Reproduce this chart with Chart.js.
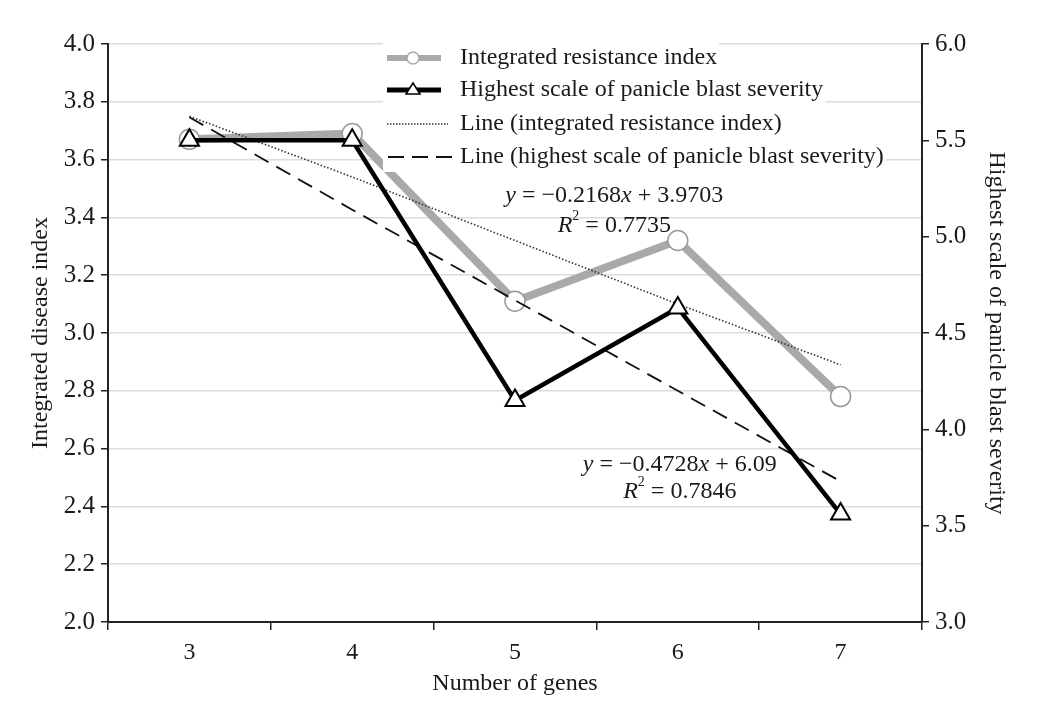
<!DOCTYPE html>
<html>
<head>
<meta charset="utf-8">
<script src="https://cdn.jsdelivr.net/npm/chart.js@4/dist/chart.umd.min.js"></script>
<style>
  html, body { margin: 0; padding: 0; background: #fff; }
  #wrap { width: 1047px; height: 702px; }
</style>
</head>
<body>
<div id="wrap"><canvas id="chart"></canvas></div>
<script>
const genes = ['3', '4', '5', '6', '7'];
const resistanceIndex = [3.67, 3.69, 3.11, 3.32, 2.78];
const panicleScale = [5.5, 5.5, 4.15, 4.63, 3.56];
// trend lines as printed (values at each category)
const resistanceTrend = [3.75, 3.54, 3.32, 3.10, 2.89];
const panicleTrend = [5.62, 5.14, 4.67, 4.20, 3.73];
const legendLabels = [
  'Integrated resistance index',
  'Highest scale of panicle blast severity',
  'Line (integrated resistance index)',
  'Line (highest scale of panicle blast severity)',
];
const eqResistance = ['y', ' = \u22120.2168', 'x', ' + 3.9703'];
const eqPanicle = ['y', ' = \u22120.4728', 'x', ' + 6.09'];
const r2Resistance = '0.7735';
const r2Panicle = '0.7846';

const FONT = '"Liberation Serif", "Times New Roman", serif';
const GRAY = '#a9a9a9';
const INK = '#1a1a1a';
const FS = 24;

// draws a string where every other piece is italic
const drawMixed = (ctx, parts, cx, y) => {
  let total = 0;
  const widths = parts.map((p, i) => {
    ctx.font = (i % 2 === 0 ? 'italic ' : '') + FS + 'px ' + FONT;
    const w = ctx.measureText(p).width;
    total += w;
    return w;
  });
  let x = cx - total / 2;
  parts.forEach((p, i) => {
    ctx.font = (i % 2 === 0 ? 'italic ' : '') + FS + 'px ' + FONT;
    ctx.fillText(p, x, y);
    x += widths[i];
  });
};

const drawR2 = (ctx, value, cx, y) => {
  ctx.font = 'italic ' + FS + 'px ' + FONT;
  const wR = ctx.measureText('R').width;
  ctx.font = '14px ' + FONT;
  const w2 = ctx.measureText('2').width;
  ctx.font = FS + 'px ' + FONT;
  const rest = ' = ' + value;
  const wRest = ctx.measureText(rest).width;
  let x = cx - (wR + w2 + wRest) / 2;
  ctx.font = 'italic ' + FS + 'px ' + FONT;
  ctx.fillText('R', x, y);
  x += wR;
  ctx.font = '14px ' + FONT;
  ctx.fillText('2', x, y - 10);
  x += w2;
  ctx.font = FS + 'px ' + FONT;
  ctx.fillText(rest, x, y);
};

const extras = {
  id: 'extras',
  afterDraw(chart) {
    const { ctx } = chart;
    const xs = chart.scales.x;
    const yl = chart.scales.y;
    const yr = chart.scales.y1;
    ctx.save();
    ctx.textBaseline = 'middle';
    ctx.fillStyle = INK;

    // equations
    const x1 = xs.getPixelForValue(2) * 0.39 + xs.getPixelForValue(3) * 0.61;
    drawMixed(ctx, eqResistance, x1, yl.getPixelForValue(3.474));
    drawR2(ctx, r2Resistance, x1, yl.getPixelForValue(3.37));
    const x2 = xs.getPixelForValue(3) + 2;
    drawMixed(ctx, eqPanicle, x2, yr.getPixelForValue(3.815));
    drawR2(ctx, r2Panicle, x2, yr.getPixelForValue(3.675));

    // legend
    const lx = 387;
    const rows = [58, 90, 124, 157];
    ctx.font = FS + 'px ' + FONT;
    rows.forEach((ry, i) => {
      const tw = ctx.measureText(legendLabels[i]).width;
      ctx.fillStyle = '#fff';
      ctx.fillRect(lx - 4, ry - 15, 460 - lx + tw + 6, 30);
    });
    rows.forEach((ry, i) => {
      ctx.save();
      if (i === 0) {
        ctx.strokeStyle = GRAY; ctx.lineWidth = 6;
        ctx.beginPath(); ctx.moveTo(lx, ry); ctx.lineTo(lx + 54, ry); ctx.stroke();
        ctx.fillStyle = '#fff'; ctx.lineWidth = 1.5;
        ctx.beginPath(); ctx.arc(lx + 26, ry, 6, 0, Math.PI * 2); ctx.fill(); ctx.stroke();
      } else if (i === 1) {
        ctx.strokeStyle = '#000'; ctx.lineWidth = 5;
        ctx.beginPath(); ctx.moveTo(lx, ry); ctx.lineTo(lx + 54, ry); ctx.stroke();
        ctx.fillStyle = '#fff'; ctx.lineWidth = 1.5;
        ctx.beginPath();
        ctx.moveTo(lx + 26, ry - 7); ctx.lineTo(lx + 33, ry + 4); ctx.lineTo(lx + 19, ry + 4);
        ctx.closePath(); ctx.fill(); ctx.stroke();
      } else if (i === 2) {
        ctx.strokeStyle = '#333'; ctx.lineWidth = 1.5; ctx.setLineDash([1.5, 1.5]);
        ctx.beginPath(); ctx.moveTo(lx, ry); ctx.lineTo(lx + 61, ry); ctx.stroke();
      } else {
        ctx.strokeStyle = '#111'; ctx.lineWidth = 2; ctx.setLineDash([16, 8]);
        ctx.beginPath(); ctx.moveTo(lx + 1, ry); ctx.lineTo(lx + 66, ry); ctx.stroke();
      }
      ctx.restore();
      ctx.fillStyle = INK;
      ctx.font = FS + 'px ' + FONT;
      ctx.textAlign = 'left';
      ctx.fillText(legendLabels[i], 460, ry);
    });
    ctx.restore();
  },
};

new Chart(document.querySelector('#chart'), {
  type: 'line',
  data: {
    labels: genes,
    datasets: [
      {
        label: legendLabels[2],
        data: resistanceTrend,
        yAxisID: 'y',
        borderColor: '#333',
        borderWidth: 1.6,
        borderDash: [1.5, 2],
        pointRadius: 0,
        order: 1,
      },
      {
        label: legendLabels[3],
        data: panicleTrend,
        yAxisID: 'y1',
        borderColor: '#111',
        borderWidth: 1.8,
        borderDash: [16, 9],
        pointRadius: 0,
        order: 2,
      },
      {
        label: legendLabels[1],
        data: panicleScale,
        yAxisID: 'y1',
        borderColor: '#000',
        borderWidth: 4.5,
        pointStyle: 'triangle',
        pointRadius: 11,
        pointBorderWidth: 2,
        pointBorderColor: '#000',
        pointBackgroundColor: '#fff',
        order: 0,
      },
      {
        label: legendLabels[0],
        data: resistanceIndex,
        yAxisID: 'y',
        borderColor: GRAY,
        borderWidth: 8,
        pointStyle: 'circle',
        pointRadius: 10,
        pointBorderWidth: 1.5,
        pointBorderColor: '#999',
        pointBackgroundColor: '#fff',
        order: 3,
      },
    ],
  },
  options: {
    responsive: true,
    maintainAspectRatio: false,
    animation: false,
    layout: { padding: { top: 44, left: 0, right: 0, bottom: 0 } },
    plugins: {
      legend: { display: false },
      tooltip: { enabled: false },
    },
    scales: {
      x: {
        offset: true,
        afterFit: (s) => { s.height = 80; },
        grid: {
          offset: true,
          drawOnChartArea: false,
          tickLength: 8,
          color: '#222',
          lineWidth: 1.5,
        },
        border: { color: '#222', width: 2 },
        ticks: { color: INK, font: { family: FONT, size: 24 }, padding: 8 },
        title: {
          display: true,
          text: 'Number of genes',
          color: INK,
          font: { family: FONT, size: 24 },
          padding: { top: 0 },
        },
      },
      y: {
        position: 'left',
        min: 2.0,
        max: 4.0,
        afterFit: (s) => { s.width = 108; },
        ticks: {
          stepSize: 0.2,
          color: INK,
          font: { family: FONT, size: 25 },
          padding: 6,
          callback: (v) => Number(v).toFixed(1),
        },
        grid: {
          color: '#dcdcdc',
          lineWidth: 1.5,
          tickLength: 7,
          tickColor: '#222',
        },
        border: { color: '#222', width: 2 },
        title: {
          display: true,
          text: 'Integrated disease index',
          color: INK,
          font: { family: FONT, size: 24 },
          padding: { bottom: 0, top: 26 },
        },
      },
      y1: {
        position: 'right',
        min: 3.0,
        max: 6.0,
        afterFit: (s) => { s.width = 125; },
        ticks: {
          stepSize: 0.5,
          color: INK,
          font: { family: FONT, size: 25 },
          padding: 6,
          callback: (v) => Number(v).toFixed(1),
        },
        grid: {
          drawOnChartArea: false,
          tickLength: 7,
          color: '#222',
          lineWidth: 1.5,
        },
        border: { color: '#222', width: 2 },
        title: {
          display: true,
          text: 'Highest scale of panicle blast severity',
          color: INK,
          font: { family: FONT, size: 24 },
          padding: { top: 36, bottom: 0 },
        },
      },
    },
  },
  plugins: [extras],
});
</script>
</body>
</html>
